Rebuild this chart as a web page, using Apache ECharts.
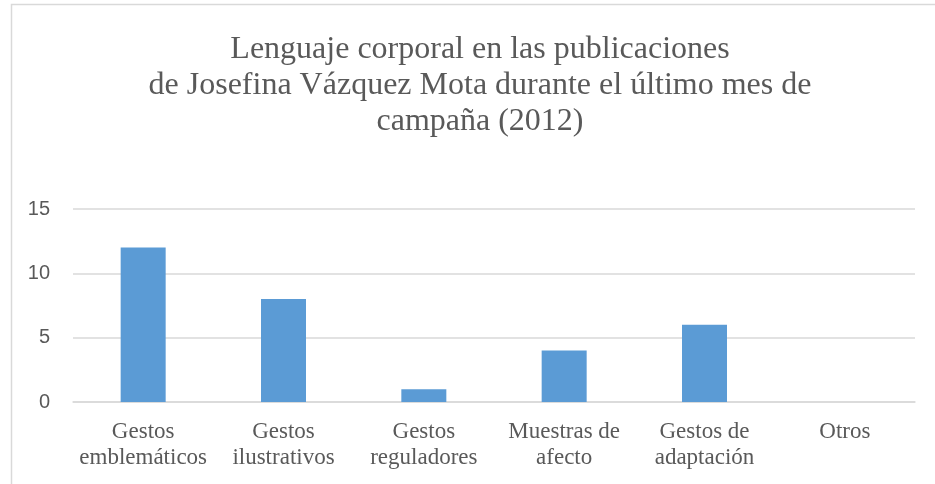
<!DOCTYPE html>
<head>
    <meta charset="UTF-8">
    <title>ECharts</title>
</head>
<body style="margin:0">
<div id="main" style="width:935px;height:484px"></div>
<script src="https://cdn.jsdelivr.net/npm/echarts@6/dist/echarts.min.js"></script>
<script type="text/javascript">
    var categories = ['Gestos\nemblemáticos', 'Gestos\nilustrativos', 'Gestos\nreguladores', 'Muestras de\nafecto', 'Gestos de\nadaptación', 'Otros'];
    var values = [12, 8, 1, 4, 6, 0];
    var yTicks = [0, 5, 10, 15];

    var option = {
        animation: false,
        backgroundColor: '#fff',
        title: {
            text: 'Lenguaje corporal en las publicaciones\nde Josefina Vázquez Mota durante el último mes de\ncampaña (2012)',
            left: 475,
            textAlign: 'center',
            top: 27,
            textStyle: {
                fontFamily: 'Liberation Serif',
                fontSize: 32,
                fontWeight: 'normal',
                color: '#595959',
                lineHeight: 36
            }
        },
        graphic: [
            {
                type: 'rect',
                shape: { x: 11.5, y: 4.5, width: 940, height: 500 },
                style: { fill: 'none', stroke: '#d9d9d9', lineWidth: 1.5 },
                silent: true
            }
        ],
        grid: {
            top: 209,
            left: 73,
            right: 20,
            bottom: 82,
            containLabel: false
        },
        xAxis: {
            type: 'category',
            data: categories,
            axisTick: { show: false },
            axisLine: { show: true, lineStyle: { color: '#d9d9d9', width: 1.5 } },
            axisLabel: {
                interval: 0,
                margin: 17,
                fontFamily: 'Liberation Serif',
                fontSize: 23,
                lineHeight: 26,
                color: '#595959'
            }
        },
        yAxis: {
            type: 'value',
            min: yTicks[0],
            max: yTicks[yTicks.length - 1],
            interval: 5,
            axisLine: { show: false },
            axisTick: { show: false },
            splitLine: { lineStyle: { color: '#d9d9d9', width: 1.5 } },
            axisLabel: {
                margin: 23,
                fontFamily: 'Liberation Sans',
                fontSize: 20,
                color: '#595959'
            }
        },
        series: [
            {
                type: 'bar',
                data: values,
                barWidth: 45,
                itemStyle: {
                    color: '#5b9bd5'
                }
            }
        ]
    };

    var myChart = echarts.init(document.getElementById('main'));
    myChart.setOption(option);
</script>
</body>
